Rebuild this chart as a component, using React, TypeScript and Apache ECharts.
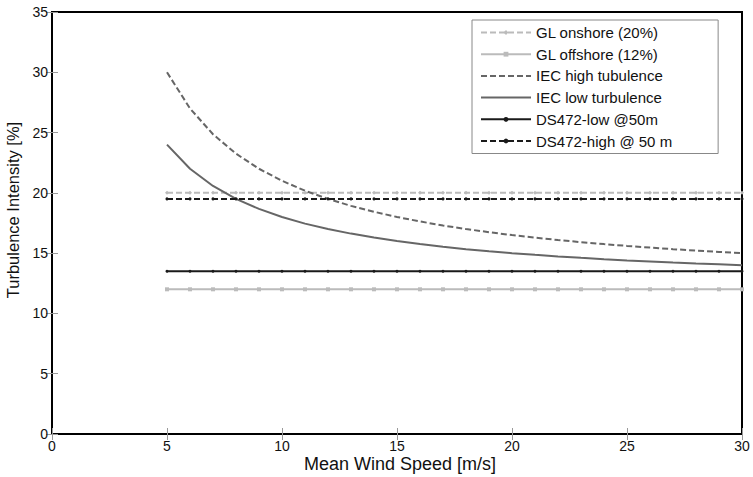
import React, { useEffect, useRef } from "react";
import * as echarts from "echarts";

const windSpeed = [5, 6, 7, 8, 9, 10, 11, 12, 13, 14, 15, 16, 17, 18, 19, 20, 21, 22, 23, 24, 25, 26, 27, 28, 29, 30];
const glOnshore = [20, 20, 20, 20, 20, 20, 20, 20, 20, 20, 20, 20, 20, 20, 20, 20, 20, 20, 20, 20, 20, 20, 20, 20, 20, 20];
const glOffshore = [12, 12, 12, 12, 12, 12, 12, 12, 12, 12, 12, 12, 12, 12, 12, 12, 12, 12, 12, 12, 12, 12, 12, 12, 12, 12];
const iecHigh = [30, 27, 24.86, 23.25, 22, 21, 20.18, 19.5, 18.92, 18.43, 18, 17.63, 17.29, 17, 16.74, 16.5, 16.29, 16.09, 15.91, 15.75, 15.6, 15.46, 15.33, 15.21, 15.1, 15];
const iecLow = [24, 22, 20.57, 19.5, 18.67, 18, 17.45, 17, 16.62, 16.29, 16, 15.75, 15.53, 15.33, 15.16, 15, 14.86, 14.73, 14.61, 14.5, 14.4, 14.31, 14.22, 14.14, 14.07, 14];
const ds472Low = [13.5, 13.5, 13.5, 13.5, 13.5, 13.5, 13.5, 13.5, 13.5, 13.5, 13.5, 13.5, 13.5, 13.5, 13.5, 13.5, 13.5, 13.5, 13.5, 13.5, 13.5, 13.5, 13.5, 13.5, 13.5, 13.5];
const ds472High = [19.5, 19.5, 19.5, 19.5, 19.5, 19.5, 19.5, 19.5, 19.5, 19.5, 19.5, 19.5, 19.5, 19.5, 19.5, 19.5, 19.5, 19.5, 19.5, 19.5, 19.5, 19.5, 19.5, 19.5, 19.5, 19.5];

const seriesNames = [
  "GL onshore (20%)",
  "GL offshore (12%)",
  "IEC high tubulence",
  "IEC low turbulence",
  "DS472-low @50m",
  "DS472-high @ 50 m",
];
const xTitle = "Mean Wind Speed [m/s]";
const yTitle = "Turbulence Intensity [%]";

const FONT = "'Liberation Sans', Arial, sans-serif";

function pairs(ys: number[]) {
  return windSpeed.map((x, i) => [x, ys[i]]);
}

export default function App() {
  const ref = useRef<HTMLDivElement>(null);
  useEffect(() => {
    if (!ref.current) return;
    const chart = echarts.init(ref.current, null, { renderer: "svg" });
    const tickStyle = { show: true, inside: true, length: 6, lineStyle: { color: "#999", width: 1 } };
    chart.setOption({
      animation: false,
      backgroundColor: "#fff",
      grid: {
        left: 52,
        right: 11,
        top: 12,
        bottom: 43,
        show: true,
        borderColor: "#000",
        borderWidth: 2,
        backgroundColor: "transparent",
        containLabel: false,
        outerBoundsMode: "none",
      },
      graphic: [
        {
          type: "text",
          x: 400,
          y: 464,
          style: {
            text: xTitle,
            fontFamily: FONT,
            fontSize: 18,
            fill: "#111",
            align: "center",
            verticalAlign: "middle",
          },
        },
        {
          type: "text",
          x: 13,
          y: 210,
          rotation: Math.PI / 2,
          style: {
            text: yTitle,
            fontFamily: FONT,
            fontSize: 16.5,
            fill: "#111",
            align: "center",
            verticalAlign: "middle",
          },
        },
      ],
      legend: {
        orient: "vertical",
        left: 472,
        top: 20,
        data: seriesNames.map((n, i) =>
          i === 2 || i === 3 ? { name: n, itemStyle: { opacity: 0 } } : { name: n }
        ),
        itemWidth: 50,
        itemHeight: 6,
        itemGap: 6.7,
        padding: [5, 46, 5, 8],
        backgroundColor: "#fff",
        borderColor: "#888",
        borderWidth: 1,
        borderRadius: 0,
        textStyle: { fontFamily: FONT, fontSize: 15, color: "#111" },
      },
      xAxis: [
        {
          type: "value",
          min: 0,
          max: 30,
          interval: 5,
          axisLine: { show: false },
          axisTick: tickStyle,
          axisLabel: { fontFamily: FONT, fontSize: 14, color: "#111", margin: 5 },
          splitLine: { show: false },
        },
        {
          type: "value",
          position: "top",
          min: 0,
          max: 30,
          interval: 5,
          axisLine: { show: false },
          axisTick: tickStyle,
          axisLabel: { show: false },
          splitLine: { show: false },
        },
      ],
      yAxis: [
        {
          type: "value",
          min: 0,
          max: 35,
          interval: 5,
          axisLine: { show: false },
          axisTick: tickStyle,
          axisLabel: { fontFamily: FONT, fontSize: 14, color: "#111", margin: 4 },
          splitLine: { show: false },
        },
        {
          type: "value",
          position: "right",
          min: 0,
          max: 35,
          interval: 5,
          axisLine: { show: false },
          axisTick: tickStyle,
          axisLabel: { show: false },
          splitLine: { show: false },
        },
      ],
      series: [
        {
          name: seriesNames[0],
          type: "line",
          data: pairs(glOnshore),
          symbol: "diamond",
          symbolSize: 4,
          itemStyle: { color: "#bbbbbb" },
          lineStyle: { color: "#bbbbbb", width: 2, type: [6, 3] },
        },
        {
          name: seriesNames[1],
          type: "line",
          data: pairs(glOffshore),
          symbol: "rect",
          symbolSize: 4,
          itemStyle: { color: "#bbbbbb" },
          lineStyle: { color: "#bbbbbb", width: 2 },
        },
        {
          name: seriesNames[2],
          type: "line",
          data: pairs(iecHigh),
          showSymbol: false,
          symbol: "none",
          itemStyle: { color: "#666666" },
          lineStyle: { color: "#666666", width: 2, type: [6, 3] },
        },
        {
          name: seriesNames[3],
          type: "line",
          data: pairs(iecLow),
          showSymbol: false,
          symbol: "none",
          itemStyle: { color: "#666666" },
          lineStyle: { color: "#666666", width: 2 },
        },
        {
          name: seriesNames[4],
          type: "line",
          data: pairs(ds472Low),
          symbol: "circle",
          symbolSize: 3,
          itemStyle: { color: "#1a1a1a" },
          lineStyle: { color: "#1a1a1a", width: 2 },
        },
        {
          name: seriesNames[5],
          type: "line",
          data: pairs(ds472High),
          symbol: "circle",
          symbolSize: 3,
          itemStyle: { color: "#1a1a1a" },
          lineStyle: { color: "#1a1a1a", width: 2, type: [6, 3] },
        },
      ],
    });
    return () => chart.dispose();
  }, []);
  return <div ref={ref} style={{ width: 753, height: 477, position: "absolute", left: 0, top: 0 }} />;
}
